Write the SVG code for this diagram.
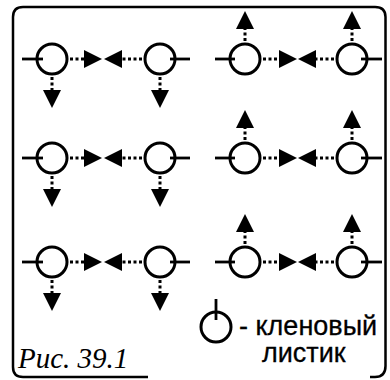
<svg xmlns="http://www.w3.org/2000/svg" width="390" height="380" viewBox="0 0 390 380">
<style>
.leaf{fill:none;stroke:#000;stroke-width:3}
.stem{stroke:#000;stroke-width:2.8;fill:none}
.dot{stroke:#000;stroke-width:3;stroke-dasharray:3 2.5;fill:none}
.frame{fill:none;stroke:#000;stroke-width:2.5}
.lbl{font-family:"Liberation Sans",Arial,sans-serif;font-size:27px;fill:#000;stroke:#000;stroke-width:0.3}
.cap{font-family:"Liberation Serif","Times New Roman",serif;font-style:italic;font-size:29px;fill:#000}
</style>
<defs>
<marker id="ah" markerUnits="userSpaceOnUse" markerWidth="19" markerHeight="19" refX="0" refY="9" orient="auto" viewBox="0 0 19 18">
<path d="M0,0 L18,9 L0,18 Z" fill="#000"/>
</marker>
</defs>
<rect width="390" height="380" fill="#fff"/>
<path class="frame" d="M148,377 L23,377 Q13,377 13,367 L13,17 Q13,7 23,7 L375,7 Q385.5,7 385.5,17 L385.5,366 Q385.5,377 375,377 L370,377"/>

<g id="n-r1-a"><circle class="leaf" cx="52" cy="59" r="15"/><line class="stem" x1="22" y1="59" x2="43" y2="59"/></g>
<g id="n-r1-b"><circle class="leaf" cx="160" cy="59" r="15"/><line class="stem" x1="170" y1="59" x2="190" y2="59"/></g>
<g id="n-r1-c"><circle class="leaf" cx="245" cy="59" r="15"/><line class="stem" x1="215" y1="59" x2="235" y2="59"/></g>
<g id="n-r1-d"><circle class="leaf" cx="352" cy="59" r="15"/><line class="stem" x1="361" y1="59" x2="382" y2="59"/></g>

<g id="n-r2-a"><circle class="leaf" cx="52" cy="158" r="15"/><line class="stem" x1="22" y1="158" x2="43" y2="158"/></g>
<g id="n-r2-b"><circle class="leaf" cx="160" cy="158" r="15"/><line class="stem" x1="170" y1="158" x2="190" y2="158"/></g>
<g id="n-r2-c"><circle class="leaf" cx="245" cy="158" r="15"/><line class="stem" x1="215" y1="158" x2="235" y2="158"/></g>
<g id="n-r2-d"><circle class="leaf" cx="352" cy="158" r="15"/><line class="stem" x1="361" y1="158" x2="382" y2="158"/></g>

<g id="n-r3-a"><circle class="leaf" cx="52" cy="262" r="15"/><line class="stem" x1="22" y1="262" x2="43" y2="262"/></g>
<g id="n-r3-b"><circle class="leaf" cx="160" cy="262" r="15"/><line class="stem" x1="170" y1="262" x2="190" y2="262"/></g>
<g id="n-r3-c"><circle class="leaf" cx="245" cy="262" r="15"/><line class="stem" x1="215" y1="262" x2="235" y2="262"/></g>
<g id="n-r3-d"><circle class="leaf" cx="352" cy="262" r="15"/><line class="stem" x1="361" y1="262" x2="382" y2="262"/></g>

<g id="connectors">
<line class="dot" x1="70" y1="59" x2="84" y2="59" marker-end="url(#ah)"/>
<line class="dot" x1="142" y1="59" x2="122" y2="59" marker-end="url(#ah)"/>
<line class="dot" x1="52" y1="77" x2="52" y2="90" marker-end="url(#ah)"/>
<line class="dot" x1="160" y1="77" x2="160" y2="90" marker-end="url(#ah)"/>
<line class="dot" x1="263" y1="59" x2="279" y2="59" marker-end="url(#ah)"/>
<line class="dot" x1="334" y1="59" x2="316" y2="59" marker-end="url(#ah)"/>
<line class="dot" x1="245" y1="41" x2="245" y2="29" marker-end="url(#ah)"/>
<line class="dot" x1="352" y1="41" x2="352" y2="29" marker-end="url(#ah)"/>

<line class="dot" x1="70" y1="158" x2="84" y2="158" marker-end="url(#ah)"/>
<line class="dot" x1="142" y1="158" x2="122" y2="158" marker-end="url(#ah)"/>
<line class="dot" x1="52" y1="176" x2="52" y2="189" marker-end="url(#ah)"/>
<line class="dot" x1="160" y1="176" x2="160" y2="189" marker-end="url(#ah)"/>
<line class="dot" x1="263" y1="158" x2="279" y2="158" marker-end="url(#ah)"/>
<line class="dot" x1="334" y1="158" x2="316" y2="158" marker-end="url(#ah)"/>
<line class="dot" x1="245" y1="140" x2="245" y2="128" marker-end="url(#ah)"/>
<line class="dot" x1="352" y1="140" x2="352" y2="128" marker-end="url(#ah)"/>

<line class="dot" x1="70" y1="262" x2="84" y2="262" marker-end="url(#ah)"/>
<line class="dot" x1="142" y1="262" x2="122" y2="262" marker-end="url(#ah)"/>
<line class="dot" x1="52" y1="280" x2="52" y2="293" marker-end="url(#ah)"/>
<line class="dot" x1="160" y1="280" x2="160" y2="293" marker-end="url(#ah)"/>
<line class="dot" x1="263" y1="262" x2="279" y2="262" marker-end="url(#ah)"/>
<line class="dot" x1="334" y1="262" x2="316" y2="262" marker-end="url(#ah)"/>
<line class="dot" x1="245" y1="244" x2="245" y2="232" marker-end="url(#ah)"/>
<line class="dot" x1="352" y1="244" x2="352" y2="232" marker-end="url(#ah)"/>
</g>

<g id="legend">
<circle class="leaf" cx="216" cy="327" r="15"/>
<line class="stem" x1="216" y1="299" x2="216" y2="320"/>
<text class="lbl" x="239" y="335">- кленовый</text>
<text class="lbl" x="262" y="362">листик</text>
</g>
<text class="cap" x="18" y="368">Рис. 39.1</text>
</svg>
